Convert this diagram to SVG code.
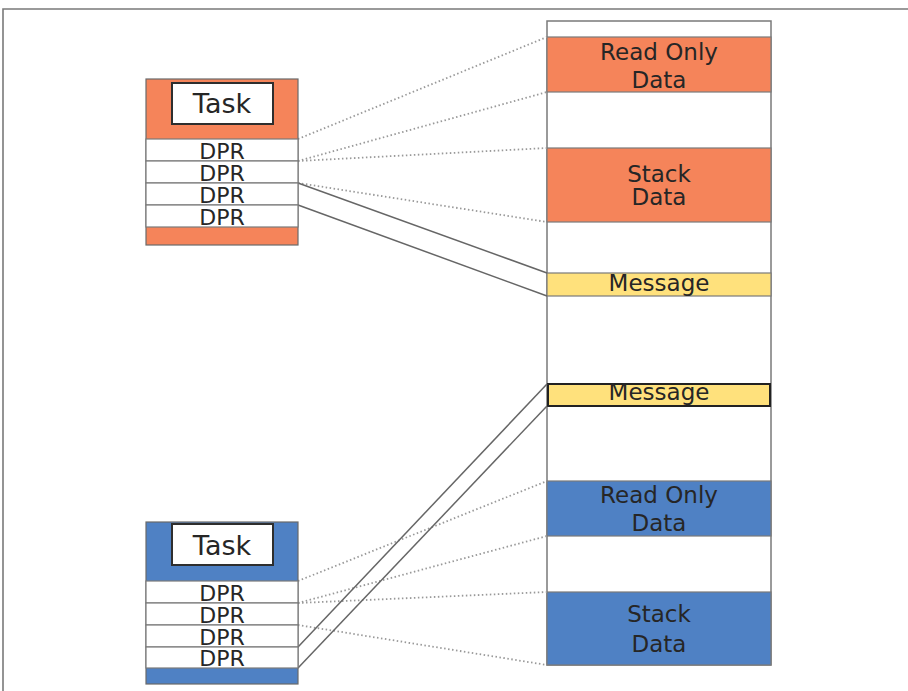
<svg xmlns="http://www.w3.org/2000/svg" width="908" height="691" viewBox="0 0 908 691">
  <style>
    .t { font-family: "DejaVu Sans", "Liberation Sans", sans-serif; fill: #262626; text-anchor: middle; }
    .lbl { font-size: 23px; }
    .dpr { font-size: 22px; }
    .task { font-size: 27px; }
    .orange { fill: #F5845A; }
    .blue { fill: #4F81C4; }
    .yellow { fill: #FFE17C; }
    .box { stroke: #6a6a6a; stroke-width: 1.2; }
    .row { fill: #fff; stroke: #7a7a7a; stroke-width: 1.2; }
    .inner { fill: #fff; stroke: #2e2e2e; stroke-width: 2; }
    .seg { stroke: #7a7a7a; stroke-width: 1.2; }
    .dot { stroke: #999; stroke-width: 1.8; stroke-dasharray: 1.5 2.5; fill: none; }
    .solid { stroke: #666; stroke-width: 1.5; fill: none; }
  </style>
  <rect width="908" height="691" fill="#fff"/>
  <path d="M3,691 V9 H908" fill="none" stroke="#7a7a7a" stroke-width="1.6"/>

  <g id="memory">
    <rect x="547" y="21" width="224" height="644" fill="#fff" stroke="#7a7a7a" stroke-width="1.5"/>
    <rect class="orange seg" x="547" y="37" width="224" height="55"/>
    <rect class="orange seg" x="547" y="148" width="224" height="74"/>
    <rect class="yellow seg" x="547" y="273" width="224" height="23"/>
    <rect class="yellow" x="548" y="384" width="222" height="22" stroke="#222" stroke-width="2"/>
    <rect class="blue seg" x="547" y="481" width="224" height="55"/>
    <rect class="blue seg" x="547" y="592" width="224" height="73"/>
    <text class="t lbl" x="659" y="60">Read Only</text>
    <text class="t lbl" x="659" y="88">Data</text>
    <text class="t lbl" x="659" y="182">Stack</text>
    <text class="t lbl" x="659" y="205">Data</text>
    <text class="t lbl" x="659" y="291">Message</text>
    <text class="t lbl" x="659" y="400">Message</text>
    <text class="t lbl" x="659" y="503">Read Only</text>
    <text class="t lbl" x="659" y="531">Data</text>
    <text class="t lbl" x="659" y="622">Stack</text>
    <text class="t lbl" x="659" y="652">Data</text>
  </g>

  <g id="connectors">
    <line class="dot" x1="298" y1="139" x2="547" y2="37"/>
    <line class="dot" x1="298" y1="161" x2="547" y2="92"/>
    <line class="dot" x1="298" y1="161" x2="547" y2="148"/>
    <line class="dot" x1="298" y1="183" x2="547" y2="222"/>
    <line class="solid" x1="298" y1="183" x2="547" y2="273"/>
    <line class="solid" x1="298" y1="205" x2="547" y2="296"/>
    <line class="dot" x1="298" y1="581" x2="547" y2="481"/>
    <line class="dot" x1="298" y1="603" x2="547" y2="536"/>
    <line class="dot" x1="298" y1="603" x2="547" y2="592"/>
    <line class="dot" x1="298" y1="625" x2="547" y2="665"/>
    <line class="solid" x1="298" y1="647" x2="547" y2="384"/>
    <line class="solid" x1="298" y1="668" x2="547" y2="406"/>
  </g>

  <g id="task-top">
    <rect class="orange box" x="146" y="79" width="152" height="166"/>
    <rect class="inner" x="172" y="83" width="101" height="41"/>
    <text class="t task" x="222" y="113">Task</text>
    <rect class="row" x="146" y="139" width="152" height="22"/>
    <rect class="row" x="146" y="161" width="152" height="22"/>
    <rect class="row" x="146" y="183" width="152" height="22"/>
    <rect class="row" x="146" y="205" width="152" height="22"/>
    <text class="t dpr" x="222" y="159">DPR</text>
    <text class="t dpr" x="222" y="181">DPR</text>
    <text class="t dpr" x="222" y="203">DPR</text>
    <text class="t dpr" x="222" y="225">DPR</text>
  </g>

  <g id="task-bottom">
    <rect class="blue box" x="146" y="522" width="152" height="162"/>
    <rect class="inner" x="172" y="524" width="101" height="41"/>
    <text class="t task" x="222" y="555">Task</text>
    <rect class="row" x="146" y="581" width="152" height="22"/>
    <rect class="row" x="146" y="603" width="152" height="22"/>
    <rect class="row" x="146" y="625" width="152" height="22"/>
    <rect class="row" x="146" y="647" width="152" height="21"/>
    <text class="t dpr" x="222" y="601">DPR</text>
    <text class="t dpr" x="222" y="623">DPR</text>
    <text class="t dpr" x="222" y="645">DPR</text>
    <text class="t dpr" x="222" y="666">DPR</text>
  </g>
</svg>
